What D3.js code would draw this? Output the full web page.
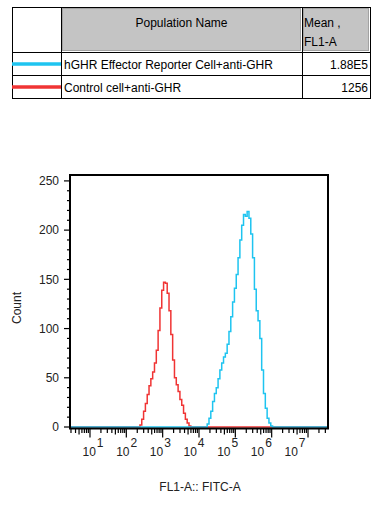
<!DOCTYPE html>
<html><head><meta charset="utf-8">
<script src="https://cdn.jsdelivr.net/npm/d3@7"></script>
<style>body{margin:0;background:#fff} svg{display:block;font-family:"Liberation Sans",Arial,sans-serif}</style>
</head><body><svg id="c" width="380" height="505"></svg>
<script>
// ---- data ----
const populations = ["hGHR Effector Reporter Cell+anti-GHR", "Control cell+anti-GHR"];
const means = ["1.88E5", "1256"];
const seriesColors = ["#1ec4f0", "#f03434"];
const yTicks = [0, 50, 100, 150, 200, 250];
const xDecades = [1, 2, 3, 4, 5, 6, 7];
// Control (red): bin centre as log10(FL1-A), count
const redLog = [2.35,2.40,2.45,2.50,2.55,2.60,2.65,2.70,2.75,2.80,2.85,2.90,2.95,3.00,3.05,3.10,3.15,3.20,3.25,3.30,3.35,3.40,3.45,3.50,3.55,3.60,3.65,3.70,3.75,3.80];
const redCount = [0,2,8,16,24,33,42,49,56,65,78,98,121,139,147,146,136,118,94,68,50,43,36,28,22,14,8,4,1,0];
// hGHR reporter (cyan)
const cyanLog = [4.20,4.25,4.30,4.35,4.40,4.45,4.50,4.55,4.60,4.65,4.70,4.75,4.80,4.85,4.90,4.95,5.00,5.05,5.10,5.15,5.20,5.25,5.30,5.35,5.40,5.45,5.50,5.55,5.60,5.65,5.70,5.75,5.80,5.85,5.90,5.95,6.00,6.05];
const cyanCount = [0,3,9,16,26,34,40,49,58,65,71,75,84,97,112,127,141,155,172,190,205,216,214,219,212,196,172,140,118,108,90,58,34,19,9,4,1,0];

const svg = d3.select("#c");

// ---- table ----
const colX = [12, 61, 302, 370];
const rowY = [7, 52, 75, 98];
const tbl = svg.append("g");
tbl.append("rect").attr("x", colX[1] + 1.5).attr("y", rowY[0] + 1.5)
  .attr("width", colX[2] - colX[1] - 3).attr("height", rowY[1] - rowY[0] - 3)
  .attr("fill", "#c4c4c4").attr("stroke", "#a2a2a2");
tbl.append("rect").attr("x", colX[2] + 1.5).attr("y", rowY[0] + 1.5)
  .attr("width", colX[3] - colX[2] - 3).attr("height", rowY[1] - rowY[0] - 3)
  .attr("fill", "#c4c4c4").attr("stroke", "#a2a2a2");
colX.forEach(x => tbl.append("line").attr("x1", x + 0.5).attr("x2", x + 0.5)
  .attr("y1", rowY[0]).attr("y2", rowY[3] + 1).attr("stroke", "#000"));
rowY.forEach(y => tbl.append("line").attr("x1", colX[0]).attr("x2", colX[3] + 1)
  .attr("y1", y + 0.5).attr("y2", y + 0.5).attr("stroke", "#000"));
tbl.append("text").attr("x", (colX[1] + colX[2]) / 2).attr("y", 27)
  .attr("text-anchor", "middle").attr("font-size", 12).text("Population Name");
tbl.append("text").attr("x", colX[2] + 2).attr("y", 27).attr("font-size", 12).text("Mean ,");
tbl.append("text").attr("x", colX[2] + 2).attr("y", 46).attr("font-size", 12).text("FL1-A");
populations.forEach((p, i) => {
  const yc = (rowY[i + 1] + rowY[i + 2]) / 2 + 0.5;
  tbl.append("line").attr("x1", colX[0]).attr("x2", colX[1])
    .attr("y1", yc).attr("y2", yc).attr("stroke", seriesColors[i]).attr("stroke-width", 3.5);
  tbl.append("text").attr("x", colX[1] + 3).attr("y", yc + 4.5).attr("font-size", 12).text(p);
  tbl.append("text").attr("x", colX[3] - 2).attr("y", yc + 4.5).attr("font-size", 12)
    .attr("text-anchor", "end").text(means[i]);
});

// ---- chart ----
const L = 70, R = 328, T = 175, B = 427;
const x = d3.scaleLog().domain([Math.pow(10, 0.45), Math.pow(10, 7.55)]).range([L, R]);
const y = d3.scaleLinear().domain([0, 256]).range([B, T]);
// decade labels sit on their own (slightly compressed) spacing, as in the source plot
const xLabel = d3.scaleLinear().domain([1, 7]).range([93, 295]);

svg.append("clipPath").attr("id", "clip").append("rect")
  .attr("x", L).attr("y", T).attr("width", R - L).attr("height", B - T + 2);

function series(logs, counts) {
  const pts = [[x.domain()[0], 0]];
  logs.forEach((l, i) => pts.push([Math.pow(10, l), counts[i]]));
  pts.push([x.domain()[1], 0]);
  return pts;
}
const line = d3.line().x(d => x(d[0])).y(d => y(d[1])).curve(d3.curveStep);
const plot = svg.append("g").attr("clip-path", "url(#clip)");
plot.append("path").attr("d", line(series(redLog, redCount)))
  .attr("fill", "none").attr("stroke", seriesColors[1]).attr("stroke-width", 1.5);
plot.append("path").attr("d", line(series(cyanLog, cyanCount)))
  .attr("fill", "none").attr("stroke", seriesColors[0]).attr("stroke-width", 1.5);

svg.append("rect").attr("x", L).attr("y", T).attr("width", R - L).attr("height", B + 1.5 - T)
  .attr("fill", "none").attr("stroke", "#000").attr("stroke-width", 2);

d3.range(0, 251, 10).forEach(v => {
  const major = v % 50 === 0;
  svg.append("line").attr("x1", L - (major ? 6 : 3)).attr("x2", L)
    .attr("y1", y(v)).attr("y2", y(v)).attr("stroke", "#000").attr("stroke-width", 1.2);
});
yTicks.forEach(v => {
  svg.append("text").attr("x", L - 11).attr("y", y(v)).attr("dy", "0.35em")
    .attr("text-anchor", "end").attr("font-size", 12).attr("fill", "#222").text(v);
});

const xb = B + 2.5;
for (let d = 0; d <= 7; d++) {
  for (let k = 1; k <= 9; k++) {
    const v = k * Math.pow(10, d);
    if (v < x.domain()[0] || v > x.domain()[1]) continue;
    const len = k === 1 ? 8 : (k === 5 ? 5 : 3.5);
    svg.append("line").attr("x1", x(v)).attr("x2", x(v)).attr("y1", xb - 1).attr("y2", xb + len)
      .attr("stroke", "#000").attr("stroke-width", 1.2);
  }
}
xDecades.forEach(n => {
  const t = svg.append("text").attr("x", xLabel(n)).attr("y", 456)
    .attr("text-anchor", "middle").attr("font-size", 12).attr("fill", "#222");
  t.append("tspan").text("10");
  t.append("tspan").attr("dy", -9).attr("dx", 1).text(n);
});

svg.append("text").attr("x", 200).attr("y", 491).attr("text-anchor", "middle")
  .attr("font-size", 12).attr("fill", "#222").text("FL1-A:: FITC-A");
svg.append("text").attr("transform", "translate(21,308) rotate(-90)")
  .attr("text-anchor", "middle").attr("font-size", 12).attr("fill", "#222").text("Count");
</script></body></html>
